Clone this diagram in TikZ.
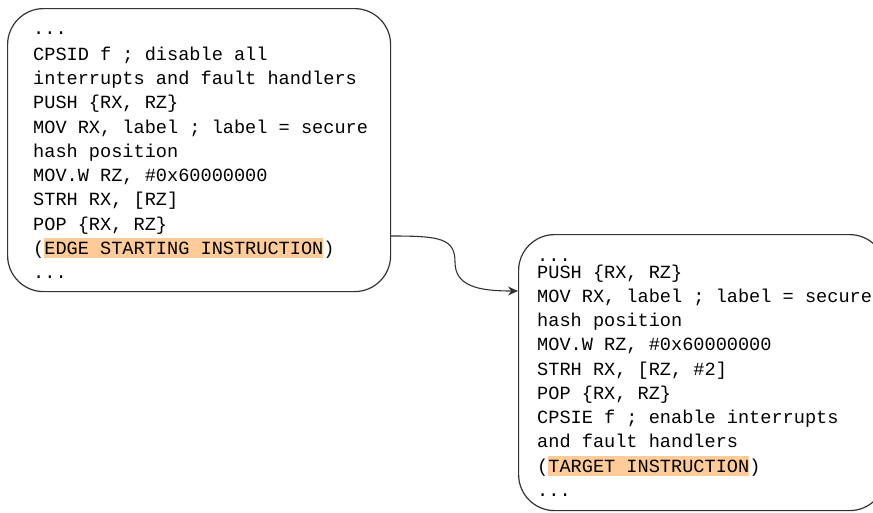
\documentclass[tikz,border=0pt]{standalone}
\usepackage{fontspec}
\setmonofont{Liberation Mono}
\usetikzlibrary{arrows.meta}

\definecolor{hilite}{HTML}{FFCC99}
\definecolor{edgegray}{HTML}{333333}
% highlighted run of code text
\newcommand{\hl}[1]{{\setlength{\fboxsep}{0pt}\colorbox{hilite}{\rule[-4pt]{0pt}{20pt}#1}}}

\tikzset{
  codebox/.style={draw=edgegray, line width=1.2pt, rounded corners=36pt,
                  anchor=north west, inner sep=0pt},
  code/.style={anchor=base west, inner sep=0pt,
               font=\ttfamily\fontsize{18.6}{22}\selectfont},
  link/.style={draw=edgegray, line width=1.1pt,
               -{Stealth[length=10pt,width=9pt]}}
}

\begin{document}
\begin{tikzpicture}[x=1pt,y=-1pt]
  \clip (0,0) rectangle (873,512);

  % block ending with the edge starting instruction
  \node[codebox, minimum width=383pt, minimum height=283pt] (src block) at (7,8) {};
  \node[code] (s0)  at (33,34)    {...};
  \node[code] (s1)  at (33,60)    {CPSID f ; disable all};
  \node[code] (s2)  at (33,84)    {interrupts and fault handlers};
  \node[code] (s3)  at (33,108)   {PUSH \{RX, RZ\}};
  \node[code] (s4)  at (33,133)   {MOV RX, label ; label = secure};
  \node[code] (s5)  at (33,157)   {hash position};
  \node[code] (s6)  at (33,181)   {MOV.W RZ, \#0x60000000};
  \node[code] (s7)  at (33,205.5) {STRH RX, [RZ]};
  \node[code] (s8)  at (33,230)   {POP \{RX, RZ\}};
  \node[code] (s9)  at (33,254)   {(\hl{EDGE STARTING INSTRUCTION})};
  \node[code] (s10) at (33,278)   {...};

  % block holding the target instruction
  \node[codebox, minimum width=367pt, minimum height=276pt] (dst block) at (518,234) {};
  \node[code] (t0)  at (537,261)   {...};
  \node[code] (t1)  at (537,278)   {PUSH \{RX, RZ\}};
  \node[code] (t2)  at (537,302)   {MOV RX, label ; label = secure};
  \node[code] (t3)  at (537,326.5) {hash position};
  \node[code] (t4)  at (537,350.5) {MOV.W RZ, \#0x60000000};
  \node[code] (t5)  at (537,375)   {STRH RX, [RZ, \#2]};
  \node[code] (t6)  at (537,399)   {POP \{RX, RZ\}};
  \node[code] (t7)  at (537,423)   {CPSIE f ; enable interrupts};
  \node[code] (t8)  at (537,447.5) {and fault handlers};
  \node[code] (t9)  at (537,472)   {(\hl{TARGET INSTRUCTION})};
  \node[code] (t10) at (537,496)   {...};

  % control-flow edge
  \coordinate (edge out)  at (src block.east |- 0,236);
  \coordinate (edge bend) at (455,262);
  \coordinate (edge in)   at (dst block.west |- 0,291);
  \draw[link] (edge out) .. controls +(48,0) and +(0,-24) .. (edge bend)
                         .. controls +(0,24) and +(-40,0) .. (edge in);
\end{tikzpicture}
\end{document}
